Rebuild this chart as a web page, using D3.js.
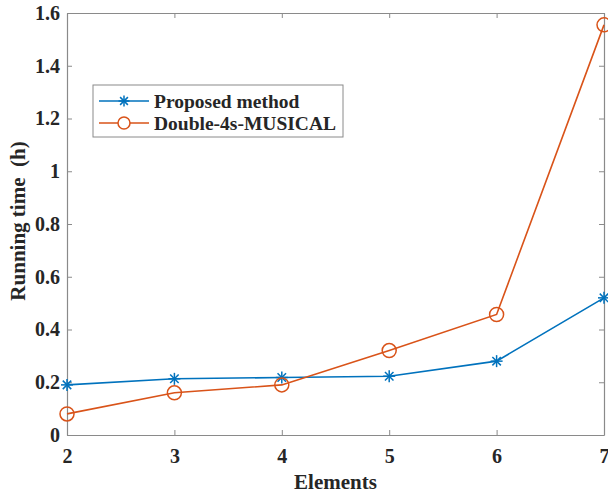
<!DOCTYPE html>
<html>
<head>
<meta charset="utf-8">
<script src="https://cdn.jsdelivr.net/npm/d3@7"></script>
<style>
  body { margin: 0; background: #fff; }
  svg text { font-family: "Liberation Serif", "Times New Roman", serif !important; font-weight: bold; fill: #262626; }
</style>
</head>
<body>
<div id="chart"></div>
<script>
// data
var elements = [2, 3, 4, 5, 6, 7];
var proposed = [0.19, 0.213, 0.218, 0.223, 0.28, 0.52];
var musical = [0.08, 0.16, 0.19, 0.32, 0.457, 1.555];
var yTicks = [0, 0.2, 0.4, 0.6, 0.8, 1, 1.2, 1.4, 1.6];
var seriesNames = ["Proposed method", "Double-4s-MUSICAL"];

var W = 608, H = 495;
var margin = {top: 13, right: 4, bottom: 60, left: 67},
    width = W - margin.left - margin.right,
    height = H - margin.top - margin.bottom;

var svg = d3.select("#chart")
  .append("svg")
    .attr("width", W)
    .attr("height", H)
  .append("g")
    .attr("transform", "translate(" + margin.left + "," + margin.top + ")");

var x = d3.scaleLinear().domain([2, 7]).range([0, width]);
var y = d3.scaleLinear().domain([0, 1.6]).range([height, 0]);

var axisColor = "#8a8a8a";

// axes (ticks inward, mirrored on top/right)
svg.append("g")
  .attr("transform", "translate(0," + height + ")")
  .call(d3.axisBottom(x).tickValues(elements).tickSizeInner(-5).tickSizeOuter(0).tickPadding(14).tickFormat(d3.format("d")));
svg.append("g")
  .call(d3.axisLeft(y).tickValues(yTicks).tickSizeInner(-5).tickSizeOuter(0).tickPadding(7)
    .tickFormat(function(d) { return d === 0 || d === 1 ? d3.format("d")(d) : d3.format(".1f")(d); }));
svg.append("g")
  .call(d3.axisTop(x).tickValues(elements).tickSizeInner(-5).tickSizeOuter(0).tickFormat(""));
svg.append("g")
  .attr("transform", "translate(" + width + ",0)")
  .call(d3.axisRight(y).tickValues(yTicks).tickSizeInner(-5).tickSizeOuter(0).tickFormat(""));

svg.selectAll("g").attr("font-family", null);
svg.selectAll(".domain").attr("stroke", axisColor).attr("stroke-width", 1.2);
svg.selectAll(".tick line").attr("stroke", axisColor);
svg.selectAll(".tick text").attr("fill", "#262626")
  .style("font-family", "'Liberation Serif', serif")
  .style("font-size", "20px").style("font-weight", "bold");

// axis labels
svg.append("text")
  .attr("x", width / 2)
  .attr("y", height + 54)
  .attr("text-anchor", "middle")
  .style("font-size", "21px")
  .text("Elements");
svg.append("text")
  .attr("transform", "translate(" + (-42) + "," + 208 + ") rotate(-90)")
  .attr("text-anchor", "middle")
  .style("font-size", "21px")
  .text("Running time\u00a0\u00a0(h)");

var colors = ["#0072BD", "#D95319"];
var line = d3.line()
  .x(function(d, i) { return x(elements[i]); })
  .y(function(d) { return y(d); });

function star(g, cx, cy, r, color) {
  [0, 45, 90, 135].forEach(function(a) {
    var rad = a * Math.PI / 180;
    g.append("line")
      .attr("x1", cx - r * Math.cos(rad)).attr("y1", cy - r * Math.sin(rad))
      .attr("x2", cx + r * Math.cos(rad)).attr("y2", cy + r * Math.sin(rad))
      .attr("stroke", color).attr("stroke-width", 1.5);
  });
}

// Proposed method
svg.append("path").datum(proposed)
  .attr("d", line).attr("fill", "none")
  .attr("stroke", colors[0]).attr("stroke-width", 1.6);
var starG = svg.append("g");
proposed.forEach(function(v, i) { star(starG, x(elements[i]), y(v), 6, colors[0]); });

// Double-4s-MUSICAL
svg.append("path").datum(musical)
  .attr("d", line).attr("fill", "none")
  .attr("stroke", colors[1]).attr("stroke-width", 1.6);
svg.selectAll(".circ").data(musical).enter().append("circle")
  .attr("cx", function(d, i) { return x(elements[i]); })
  .attr("cy", function(d) { return y(d); })
  .attr("r", 7)
  .attr("fill", "none")
  .attr("stroke", colors[1]).attr("stroke-width", 1.5);

// legend
var lg = svg.append("g").attr("transform", "translate(26,72)");
lg.append("rect")
  .attr("width", 250).attr("height", 52)
  .attr("fill", "#fff").attr("stroke", axisColor).attr("stroke-width", 1);
seriesNames.forEach(function(name, i) {
  var cy = 16 + i * 22;
  lg.append("line").attr("x1", 6).attr("x2", 56).attr("y1", cy).attr("y2", cy)
    .attr("stroke", colors[i]).attr("stroke-width", 1.6);
  if (i === 0) star(lg, 31, cy, 5.5, colors[0]);
  else lg.append("circle").attr("cx", 31).attr("cy", cy).attr("r", 6)
    .attr("fill", "#fff").attr("stroke", colors[1]).attr("stroke-width", 1.5);
  lg.append("text").attr("x", 61).attr("y", cy + 6.5)
    .style("font-size", "19.5px").text(name);
});
</script>
</body>
</html>
